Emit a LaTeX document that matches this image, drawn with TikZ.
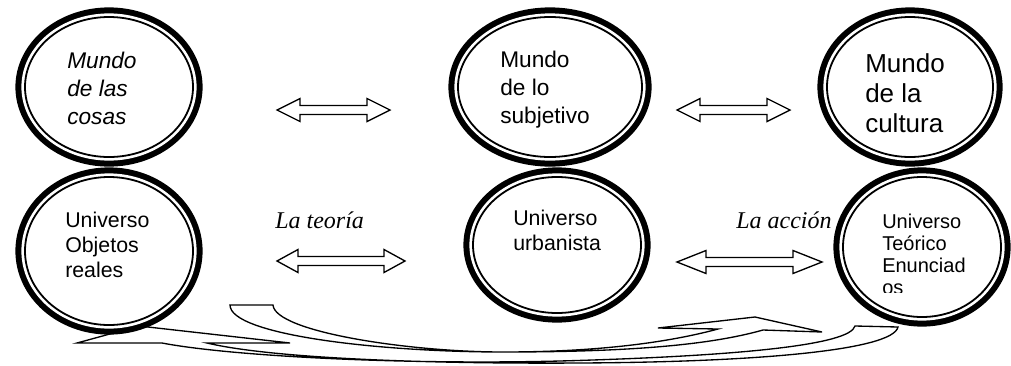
\documentclass[tikz,border=0pt]{standalone}
\usepackage{fontspec}
\setmainfont{Liberation Serif}
\setsansfont{Liberation Sans}
\usetikzlibrary{shapes.geometric}

\tikzset{
	ring/.style={ellipse, draw, fill=white, line width=1.35pt, inner sep=0pt, outer sep=0pt,
		preaction={draw=black, line width=14.4pt},
		preaction={draw=white, line width=5.4pt}},
	txt/.style={align=left, inner sep=0pt, anchor=base west},
	lbl/.style={font=\itshape\fontsize{18}{22}\selectfont, inner sep=0pt, anchor=base west},
	dblarrow/.style={draw, fill=white, line width=1pt, line join=miter},
	bentarrow/.style={draw, fill=white, line width=1pt, line join=miter}
}

\begin{document}
\begin{tikzpicture}[x=0.75pt,y=-0.75pt]
		\useasboundingbox (0,0) rectangle (1011,365);
		
		\draw[bentarrow] (855,326) .. controls (850,345) and (740,356) .. (560,361) .. controls (400,365) and (230,356) .. (162,343) -- (77,343) -- (139,326) -- (290,343) -- (207,343) .. controls (270,358) and (420,364) .. (580,363) .. controls (760,362) and (893,350) .. (898,327) -- cycle;
		\draw[bentarrow] (230,305) .. controls (230,335) and (380,352) .. (503,352) .. controls (600,352) and (670,342) .. (718,329) -- (658,328) -- (755,317) -- (822,332) -- (763,330) .. controls (710,345) and (630,352) .. (503,352) .. controls (410,352) and (275,332) .. (273,305) -- cycle;
		
		\node[ring, minimum width=126pt, minimum height=105pt] (cosas) at (109,87) {};
		\node[ring, minimum width=126pt, minimum height=111pt] (objetos) at (109,251) {};
		\node[ring, minimum width=138pt, minimum height=105pt] (subjetivo) at (550,87) {};
		\node[ring, minimum width=126pt, minimum height=102pt] (urbanista) at (557,245) {};
		\node[ring, minimum width=124.5pt, minimum height=105pt] (cultura) at (910,87) {};
		\node[ring, minimum width=118.5pt, minimum height=105pt] (enunciados) at (922,247) {};
		
		\node[txt, font=\sffamily\itshape\fontsize{17}{21}\selectfont] (cosas-txt) at (67,124) {Mundo\\de las\\cosas};
		\node[txt, font=\sffamily\fontsize{17}{21}\selectfont] (subjetivo-txt) at (500,123) {Mundo\\de lo\\subjetivo};
		\node[txt, font=\sffamily\fontsize{19.5}{22.5}\selectfont] (cultura-txt) at (865,132) {Mundo\\de la\\cultura};
		\node[txt, font=\sffamily\fontsize{16}{18.75}\selectfont] (objetos-txt) at (65,277) {Universo\\Objetos\\reales};
		\node[txt, font=\sffamily\fontsize{16}{18.75}\selectfont] (urbanista-txt) at (513,250) {Universo\\urbanista};
		\begin{scope}
			\clip (840,200) rectangle (1000,292);
			\node[txt, font=\sffamily\fontsize{15}{16.5}\selectfont] (enunciados-txt) at (882,294) {Universo\\Teórico\\Enunciad\\os};
		\end{scope}
		
		\foreach \xa/\xb/\yy/\hl in {277/390/110/23, 677/790/110/23, 277/405/261/21, 677/822/262/29}
			\draw[dblarrow] (\xa,\yy) -- ++(\hl,-11.5) -- ++(0,7) -- (\xb-\hl,\yy-4.5) -- ++(0,-7) -- (\xb,\yy) -- ++(-\hl,11.5) -- ++(0,-7) -- (\xa+\hl,\yy+4.5) -- ++(0,7) -- cycle;
		
		\node[lbl] (teoria) at (275,228) {La teoría};
		\node[lbl] (accion) at (736,228) {La acción};
	\end{tikzpicture}
\end{document}
